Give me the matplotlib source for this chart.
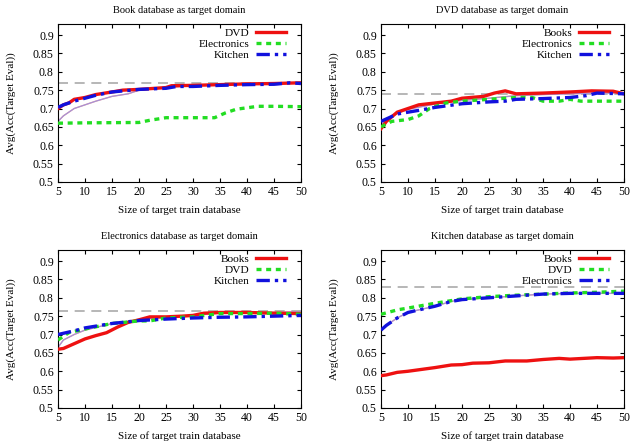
import matplotlib
matplotlib.use("Agg")
import matplotlib.pyplot as plt

plt.rcParams['font.family'] = ['Liberation Serif', 'DejaVu Serif']

# ---- Book target ----
book_x = [5, 6, 7, 8, 10, 12, 15, 17, 20, 25, 26, 30, 35, 40, 45, 50]
book_dvd = [0.700, 0.710, 0.715, 0.725, 0.730, 0.738, 0.745, 0.750, 0.752, 0.757, 0.762, 0.763, 0.765, 0.767, 0.768, 0.770]
book_kit_x = [5, 6, 8, 10, 12, 15, 20, 25, 27, 30, 35, 40, 45, 48, 50]
book_kit = [0.703, 0.710, 0.720, 0.728, 0.736, 0.745, 0.752, 0.755, 0.760, 0.760, 0.763, 0.765, 0.766, 0.770, 0.768]
book_ele_x = [5, 10, 20, 22, 25, 30, 34, 36, 38, 40, 42, 45, 50]
book_ele = [0.660, 0.661, 0.662, 0.668, 0.675, 0.675, 0.675, 0.688, 0.698, 0.702, 0.706, 0.706, 0.705]
book_thin_x = [5, 6, 8, 10, 12, 15, 18, 20, 25, 30, 35, 40, 45, 50]
book_thin = [0.665, 0.680, 0.700, 0.710, 0.720, 0.733, 0.740, 0.750, 0.757, 0.762, 0.765, 0.767, 0.768, 0.770]
book_ref = 0.77

# ---- DVD target ----
dvd_books_x = [5, 6, 8, 10, 12, 15, 18, 20, 24, 26, 28, 30, 35, 40, 44, 48, 50]
dvd_books = [0.645, 0.665, 0.690, 0.700, 0.710, 0.715, 0.720, 0.728, 0.733, 0.742, 0.748, 0.740, 0.742, 0.745, 0.748, 0.747, 0.740]
dvd_ele_x = [5, 7, 10, 12, 14, 17, 20, 25, 30, 33, 35, 38, 40, 42, 50]
dvd_ele = [0.650, 0.665, 0.670, 0.680, 0.700, 0.715, 0.720, 0.725, 0.730, 0.730, 0.720, 0.720, 0.725, 0.720, 0.720]
dvd_kit_x = [5, 8, 12, 15, 20, 25, 28, 30, 35, 40, 43, 45, 50]
dvd_kit = [0.665, 0.685, 0.695, 0.703, 0.713, 0.718, 0.720, 0.725, 0.727, 0.730, 0.735, 0.742, 0.740]
dvd_thin_x = [5, 7, 10, 15, 20, 25, 30, 35, 40, 45, 50]
dvd_thin = [0.655, 0.680, 0.698, 0.712, 0.722, 0.728, 0.735, 0.738, 0.740, 0.742, 0.742]
dvd_ref = 0.74

# ---- Electronics target ----
ele_books_x = [5, 6, 8, 10, 12, 14, 16, 18, 20, 22, 25, 28, 30, 32, 35, 40, 45, 50]
ele_books = [0.660, 0.662, 0.675, 0.688, 0.697, 0.705, 0.720, 0.733, 0.740, 0.748, 0.748, 0.750, 0.752, 0.758, 0.760, 0.760, 0.758, 0.757]
ele_dvd_x = [5, 7, 10, 15, 20, 22, 25, 30, 35, 40, 45, 50]
ele_dvd = [0.685, 0.705, 0.715, 0.730, 0.737, 0.737, 0.745, 0.748, 0.757, 0.757, 0.758, 0.755]
ele_kit_x = [5, 8, 10, 15, 20, 25, 30, 35, 40, 45, 50]
ele_kit = [0.700, 0.710, 0.718, 0.730, 0.738, 0.742, 0.745, 0.747, 0.748, 0.750, 0.752]
ele_thin_x = [5, 6, 8, 10, 15, 20, 25, 30, 35, 40, 45, 50]
ele_thin = [0.665, 0.685, 0.700, 0.712, 0.730, 0.740, 0.748, 0.752, 0.758, 0.760, 0.760, 0.762]
ele_ref = 0.763

# ---- Kitchen target ----
kit_books_x = [5, 6, 8, 10, 15, 18, 20, 22, 25, 28, 32, 35, 38, 40, 45, 48, 50]
kit_books = [0.588, 0.590, 0.597, 0.600, 0.610, 0.617, 0.618, 0.622, 0.623, 0.628, 0.628, 0.632, 0.635, 0.633, 0.637, 0.636, 0.637]
kit_dvd_x = [5, 8, 10, 15, 20, 25, 30, 35, 40, 45, 50]
kit_dvd = [0.755, 0.767, 0.772, 0.785, 0.797, 0.803, 0.807, 0.810, 0.813, 0.815, 0.818]
kit_ele_x = [5, 6, 8, 10, 12, 15, 18, 20, 25, 30, 35, 40, 45, 50]
kit_ele = [0.712, 0.725, 0.745, 0.760, 0.767, 0.777, 0.790, 0.795, 0.800, 0.805, 0.810, 0.812, 0.812, 0.812]
kit_ref = 0.83

titles = ["Book database as target domain", "DVD database as target domain",
          "Electronics database as target domain", "Kitchen database as target domain"]
xlabel = "Size of target train database"
ylabel = "Avg(Acc(Target Eval))"
xticks = [5, 10, 15, 20, 25, 30, 35, 40, 45, 50]
yticks = [0.5, 0.55, 0.6, 0.65, 0.7, 0.75, 0.8, 0.85, 0.9]
ytick_labels = ["0.5", "0.55", "0.6", "0.65", "0.7", "0.75", "0.8", "0.85", "0.9"]

panels = [
    dict(lines=[("DVD", book_x, book_dvd), ("Electronics", book_ele_x, book_ele), ("Kitchen", book_kit_x, book_kit)],
         thin=(book_thin_x, book_thin), ref=book_ref),
    dict(lines=[("Books", dvd_books_x, dvd_books), ("Electronics", dvd_ele_x, dvd_ele), ("Kitchen", dvd_kit_x, dvd_kit)],
         thin=(dvd_thin_x, dvd_thin), ref=dvd_ref),
    dict(lines=[("Books", ele_books_x, ele_books), ("DVD", ele_dvd_x, ele_dvd), ("Kitchen", ele_kit_x, ele_kit)],
         thin=(ele_thin_x, ele_thin), ref=ele_ref),
    dict(lines=[("Books", kit_books_x, kit_books), ("DVD", kit_dvd_x, kit_dvd), ("Electronics", kit_ele_x, kit_ele)],
         thin=(kit_ele_x, kit_ele), ref=kit_ref),
]

W, H = 637, 443
fig = plt.figure(figsize=(W / 100, H / 100), dpi=100)
boxes = [(58, 24, 301, 182), (381, 24, 624, 182), (58, 250, 301, 408), (381, 250, 624, 408)]

styles = [dict(color="#ee1111", lw=2.4, ls="-"),
          dict(color="#22dd22", lw=2.4, ls=(0, (1.5, 1.4))),
          dict(color="#1111dd", lw=2.4, ls=(0, (4.0, 1.5, 1.0, 1.5)))]

for i, (p, b) in enumerate(zip(panels, boxes)):
    l, t, r, bt = b
    ax = fig.add_axes([l / W, 1 - bt / H, (r - l) / W, (bt - t) / H])
    ax.axhline(p["ref"], color="#aaaaaa", lw=1.2, ls=(0, (6, 4)), zorder=1)
    tx, ty = p["thin"]
    ax.plot(tx, ty, color="#e89a9a", lw=1.0, zorder=2)
    ax.plot(tx, ty, color="#9c90e0", lw=0.8, alpha=0.9, zorder=2)
    for (name, x, y), st in zip(p["lines"], styles):
        ax.plot(x, y, label=name, zorder=3, **st)
    ax.set_xlim(5, 50)
    ax.set_ylim(0.5, 0.93)
    ax.set_xticks(xticks)
    ax.set_yticks(yticks)
    ax.set_yticklabels(ytick_labels)
    ax.tick_params(direction="in", labelsize=8.5, length=3, top=True, right=True, pad=3)
    ax.set_title(titles[i], fontsize=7.5, pad=8)
    ax.set_xlabel(xlabel, fontsize=8, labelpad=5)
    ax.set_ylabel(ylabel, fontsize=8, labelpad=12)
    for s in ax.spines.values():
        s.set_linewidth(0.8)
    ax.legend(loc="upper right", bbox_to_anchor=(0.965, 1.015), frameon=False, markerfirst=False, fontsize=8.2,
              handlelength=2.6, handletextpad=0.6, labelspacing=0.05, borderaxespad=0.2)

fig.savefig("out.png", dpi=100)
